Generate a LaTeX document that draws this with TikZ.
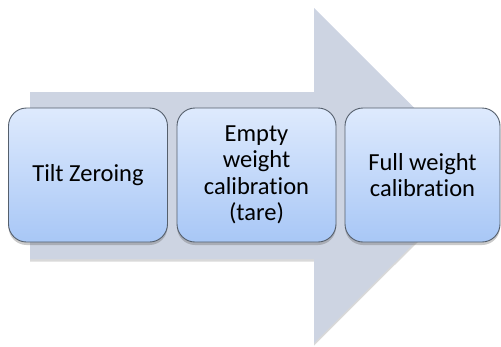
\documentclass[tikz,border=0pt]{standalone}
\usepackage{fontspec}
\setmainfont[Ligatures=NoCommon]{Carlito}
\usetikzlibrary{shadows}
\definecolor{arrowgray}{HTML}{CDD4E2}
\definecolor{boxtop}{HTML}{DEEAFD}
\definecolor{boxbot}{HTML}{A8C7F6}
\definecolor{boxline}{HTML}{555F6C}
\tikzset{
  stepbox/.style={draw=boxline, line width=0.9pt, rounded corners=18pt,
    top color=boxtop, bottom color=boxbot, minimum width=159pt,
    minimum height=134pt, align=center, inner sep=2pt,
    font=\fontsize{24.5}{26.5}\selectfont, text=black,
    drop shadow={shadow xshift=0pt, shadow yshift=-3pt, opacity=0.35, fill=black!60}},
  bigarrow/.style={fill=arrowgray, draw=none,
    drop shadow={shadow xshift=0pt, shadow yshift=-2.5pt, opacity=0.3, fill=black!50}}
}
\begin{document}
\begin{tikzpicture}[x=1pt,y=-1pt]
\useasboundingbox (0,0) rectangle (501,346);
\path[bigarrow] (30,92) -- (314,92) -- (314,8) -- (482,175.5) -- (314,343) -- (314,259) -- (30,259) -- cycle;
\node[stepbox] (b1) at (88,175) {Tilt Zeroing};
\node[stepbox] (b2) at (256.5,175) {Empty\\weight\\calibration\\(tare)};
\node[stepbox, minimum width=155pt] (b3) at (422.5,175) {Full weight\\calibration};
\end{tikzpicture}
\end{document}
